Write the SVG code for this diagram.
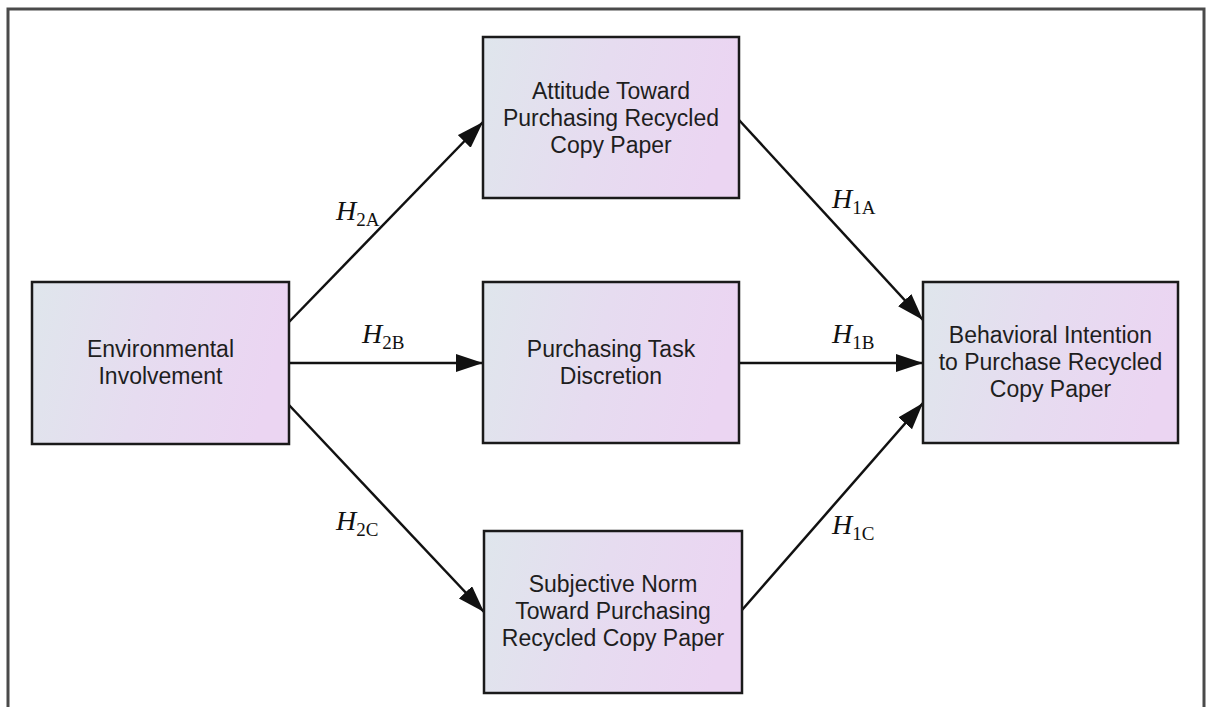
<svg xmlns="http://www.w3.org/2000/svg" width="1206" height="707" viewBox="0 0 1206 707">
  <defs>
    <linearGradient id="boxFill" x1="0" y1="0" x2="1" y2="0.15">
      <stop offset="0" stop-color="#dfe6ec"/>
      <stop offset="0.5" stop-color="#e6dcf0"/>
      <stop offset="1" stop-color="#ebd5f2"/>
    </linearGradient>
    <marker id="arrow" markerUnits="userSpaceOnUse" markerWidth="30" markerHeight="20" refX="27" refY="9" orient="auto">
      <path d="M0,0 L27,9 L0,18 Z" fill="#111"/>
    </marker>
    <style>
      .box { fill: url(#boxFill); stroke: #1a1a1a; stroke-width: 2.5; }
      .label { font-family: "Liberation Sans", Arial, sans-serif; font-size: 23px; fill: #1e1e1e; text-anchor: middle; }
      .conn { stroke: #111; stroke-width: 2.5; fill: none; marker-end: url(#arrow); }
      .hyp { font-family: "Liberation Serif", "Times New Roman", serif; font-size: 28px; fill: #111; }
      .hyp .h { font-style: italic; }
      .hyp .sub { font-size: 19px; }
      .frame { fill: none; stroke: #4a4a4a; stroke-width: 3; }
    </style>
  </defs>

  <rect width="1206" height="707" fill="#ffffff"/>
  <path class="frame" d="M8,708 V9 H1204 V708"/>

  <g id="connectors">
    <line class="conn" x1="289" y1="322" x2="483" y2="122"/>
    <line class="conn" x1="289" y1="363" x2="483" y2="363"/>
    <line class="conn" x1="289" y1="405" x2="484" y2="612"/>
    <line class="conn" x1="739" y1="120" x2="923" y2="320"/>
    <line class="conn" x1="739" y1="363" x2="923" y2="363"/>
    <line class="conn" x1="742" y1="610" x2="923" y2="403"/>
  </g>

  <g id="hypotheses">
    <text class="hyp" x="336" y="220"><tspan class="h">H</tspan><tspan class="sub" dy="6">2A</tspan></text>
    <text class="hyp" x="362" y="343"><tspan class="h">H</tspan><tspan class="sub" dy="6">2B</tspan></text>
    <text class="hyp" x="336" y="530"><tspan class="h">H</tspan><tspan class="sub" dy="6">2C</tspan></text>
    <text class="hyp" x="832" y="208"><tspan class="h">H</tspan><tspan class="sub" dy="6">1A</tspan></text>
    <text class="hyp" x="832" y="343"><tspan class="h">H</tspan><tspan class="sub" dy="6">1B</tspan></text>
    <text class="hyp" x="832" y="534"><tspan class="h">H</tspan><tspan class="sub" dy="6">1C</tspan></text>
  </g>

  <g id="environmental-involvement">
    <rect class="box" x="32" y="282" width="257" height="162"/>
    <text class="label" x="160.5" y="357">Environmental</text>
    <text class="label" x="160.5" y="384">Involvement</text>
  </g>

  <g id="attitude">
    <rect class="box" x="483" y="37" width="256" height="161"/>
    <text class="label" x="611" y="99">Attitude Toward</text>
    <text class="label" x="611" y="126">Purchasing Recycled</text>
    <text class="label" x="611" y="153">Copy Paper</text>
  </g>

  <g id="task-discretion">
    <rect class="box" x="483" y="282" width="256" height="161"/>
    <text class="label" x="611" y="357">Purchasing Task</text>
    <text class="label" x="611" y="384">Discretion</text>
  </g>

  <g id="subjective-norm">
    <rect class="box" x="484" y="531" width="258" height="162"/>
    <text class="label" x="613" y="592">Subjective Norm</text>
    <text class="label" x="613" y="619">Toward Purchasing</text>
    <text class="label" x="613" y="646">Recycled Copy Paper</text>
  </g>

  <g id="behavioral-intention">
    <rect class="box" x="923" y="282" width="255" height="161"/>
    <text class="label" x="1050.5" y="343">Behavioral Intention</text>
    <text class="label" x="1050.5" y="370">to Purchase Recycled</text>
    <text class="label" x="1050.5" y="397">Copy Paper</text>
  </g>
</svg>
